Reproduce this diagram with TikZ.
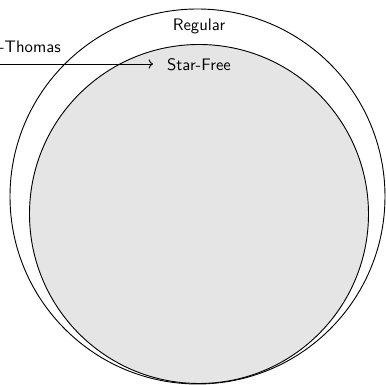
\documentclass[tikz,border=0pt]{standalone}
\usetikzlibrary{arrows.meta}
\begin{document}
\begin{tikzpicture}[x=0.6536pt,y=-0.6536pt,
  lbl/.style={font=\sffamily\fontsize{10.9}{13}\selectfont, inner sep=0pt},
  region/.style={draw=black, line width=0.6pt}]
\useasboundingbox (0,0) rectangle (386,385);
\draw[region] (197.5,196.5) circle[radius=187.5];
\draw[region, fill=black!10] (199,214) circle[radius=169.5];
\node[lbl] (reg) at (199,26) {Regular};
\node[lbl] (sf) at (199,65) {Star-Free};
\node[lbl, anchor=east] (thm) at (61,47) {-Thomas};
\coordinate (start) at (-5,64);
\draw[->, line width=0.6pt, shorten >=9pt] (start) -- (start -| sf.west);
\end{tikzpicture}
\end{document}
